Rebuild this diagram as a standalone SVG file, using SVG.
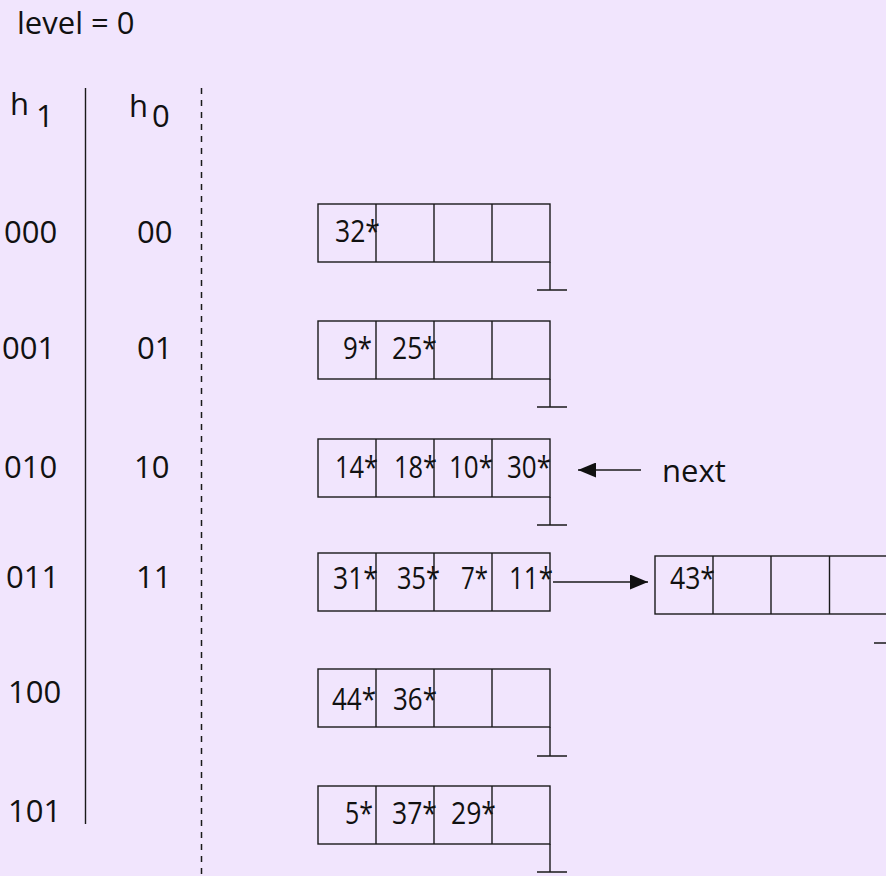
<svg xmlns="http://www.w3.org/2000/svg" width="886" height="876" viewBox="0 0 886 876">
<style>
  text { font-family: "Open Sans", "Noto Sans", "DejaVu Sans", sans-serif; font-size: 31px; fill: #111; }
  .c { lengthAdjust: spacingAndGlyphs; }
  .cell { fill: none; stroke: #1a1a1a; stroke-width: 1.4; }
  .ln { fill: none; stroke: #1a1a1a; stroke-width: 1.4; }
  .dash { fill: none; stroke: #1a1a1a; stroke-width: 1.5; stroke-dasharray: 6 6; }
</style>
<defs>
  <marker id="ah" markerWidth="18" markerHeight="15" refX="18" refY="7.5" orient="auto" markerUnits="userSpaceOnUse">
    <path d="M0,0 L18,7.5 L0,15 Z" fill="#111"/>
  </marker>
</defs>
<rect x="0" y="0" width="886" height="876" fill="#F1E5FD"/>

<g id="title"><text x="17" y="34">level = 0</text></g>

<g id="headers">
  <text x="10" y="115">h</text><text x="36" y="127">1</text>
  <text x="129" y="117">h</text><text x="152" y="127">0</text>
</g>

<g id="separators">
  <line class="ln" x1="85.5" y1="88" x2="85.5" y2="824"/>
  <line class="dash" x1="201.5" y1="88" x2="201.5" y2="876"/>
</g>

<g id="labels">
  <text x="4" y="243">000</text><text x="137" y="243">00</text>
  <text x="2" y="359">001</text><text x="137" y="359">01</text>
  <text x="4" y="478">010</text><text x="134" y="478">10</text>
  <text x="6" y="588">011</text><text x="136" y="588">11</text>
  <text x="8" y="703">100</text>
  <text x="8" y="822">101</text>
</g>

<g id="bucket0">
  <rect class="cell" x="318" y="204" width="232" height="58"/>
  <path class="ln" d="M376,204V262M434,204V262M492,204V262M550,262V290M537,290H567"/>
  <text x="335" y="242" textLength="45" lengthAdjust="spacingAndGlyphs">32*</text>
</g>

<g id="bucket1">
  <rect class="cell" x="318" y="321" width="232" height="58"/>
  <path class="ln" d="M376,321V379M434,321V379M492,321V379M550,379V407M537,407H567"/>
  <text x="343" y="359" textLength="29" lengthAdjust="spacingAndGlyphs">9*</text>
  <text x="392" y="359" textLength="45" lengthAdjust="spacingAndGlyphs">25*</text>
</g>

<g id="bucket2">
  <rect class="cell" x="318" y="439" width="232" height="58"/>
  <path class="ln" d="M376,439V497M434,439V497M492,439V497M550,497V525M537,525H567"/>
  <text x="335" y="478" textLength="43" lengthAdjust="spacingAndGlyphs">14*</text>
  <text x="394" y="478" textLength="43" lengthAdjust="spacingAndGlyphs">18*</text>
  <text x="449" y="478" textLength="44" lengthAdjust="spacingAndGlyphs">10*</text>
  <text x="507" y="478" textLength="44" lengthAdjust="spacingAndGlyphs">30*</text>
</g>

<g id="bucket3">
  <rect class="cell" x="318" y="553" width="232" height="58"/>
  <path class="ln" d="M376,553V611M434,553V611M492,553V611"/>
  <text x="333" y="589" textLength="45" lengthAdjust="spacingAndGlyphs">31*</text>
  <text x="397" y="589" textLength="43" lengthAdjust="spacingAndGlyphs">35*</text>
  <text x="461" y="589" textLength="27" lengthAdjust="spacingAndGlyphs">7*</text>
  <text x="509" y="589" textLength="44" lengthAdjust="spacingAndGlyphs">11*</text>
</g>

<g id="overflow">
  <rect class="cell" x="655" y="556" width="232" height="58"/>
  <path class="ln" d="M713,556V614M771,556V614M829.5,556V614M874,643H904"/>
  <text x="670" y="589" textLength="45" lengthAdjust="spacingAndGlyphs">43*</text>
</g>

<g id="bucket4">
  <rect class="cell" x="318" y="669" width="232" height="58"/>
  <path class="ln" d="M376,669V727M434,669V727M492,669V727M550,727V756M537,756H567"/>
  <text x="332" y="710" textLength="44" lengthAdjust="spacingAndGlyphs">44*</text>
  <text x="393" y="710" textLength="44" lengthAdjust="spacingAndGlyphs">36*</text>
</g>

<g id="bucket5">
  <rect class="cell" x="318" y="786" width="232" height="58"/>
  <path class="ln" d="M376,786V844M434,786V844M492,786V844M550,844V872M537,872H567"/>
  <text x="345" y="824" textLength="28" lengthAdjust="spacingAndGlyphs">5*</text>
  <text x="392" y="824" textLength="45" lengthAdjust="spacingAndGlyphs">37*</text>
  <text x="451" y="824" textLength="45" lengthAdjust="spacingAndGlyphs">29*</text>
</g>

<g id="next-label"><text x="662" y="482">next</text></g>

<g id="connectors">
  <line class="ln" x1="641" y1="470" x2="578" y2="470" marker-end="url(#ah)"/>
  <line class="ln" x1="553" y1="582" x2="648" y2="582" marker-end="url(#ah)"/>
</g>
</svg>
